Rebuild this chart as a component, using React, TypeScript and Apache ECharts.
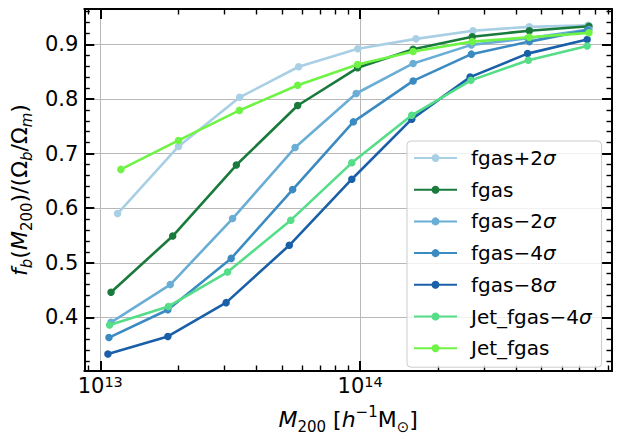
import React, { useEffect, useRef } from "react";
import * as echarts from "echarts";

// ---- data ----
const seriesNames = ["fgas+2σ", "fgas", "fgas−2σ", "fgas−4σ", "fgas−8σ", "Jet_fgas−4σ", "Jet_fgas"];
const seriesColors = ["#a9cfe5", "#1a7a3c", "#6aaed6", "#3b8bc2", "#1a60a8", "#55dd88", "#6ff445"];

const massFgasP2 = [1.166e13, 2.0e13, 3.44e13, 5.8e13, 9.8e13, 1.64e14, 2.72e14, 4.48e14, 7.53e14];
const fbFgasP2 = [0.590, 0.713, 0.803, 0.859, 0.892, 0.910, 0.925, 0.932, 0.935];

const massFgas = [1.10e13, 1.90e13, 3.34e13, 5.75e13, 9.78e13, 1.60e14, 2.70e14, 4.48e14, 7.6e14];
const fbFgas = [0.446, 0.549, 0.679, 0.788, 0.857, 0.891, 0.914, 0.925, 0.933];

const massFgasM2 = [1.10e13, 1.86e13, 3.23e13, 5.62e13, 9.66e13, 1.60e14, 2.68e14, 4.42e14, 7.6e14];
const fbFgasM2 = [0.391, 0.460, 0.581, 0.711, 0.810, 0.865, 0.899, 0.911, 0.927];

const massFgasM4 = [1.08e13, 1.82e13, 3.19e13, 5.5e13, 9.42e13, 1.60e14, 2.68e14, 4.48e14, 7.5e14];
const fbFgasM4 = [0.363, 0.414, 0.508, 0.634, 0.758, 0.833, 0.882, 0.905, 0.926];

const massFgasM8 = [1.07e13, 1.82e13, 3.05e13, 5.34e13, 9.29e13, 1.58e14, 2.65e14, 4.41e14, 7.48e14];
const fbFgasM8 = [0.333, 0.365, 0.427, 0.532, 0.653, 0.763, 0.840, 0.883, 0.909];

const massJetM4 = [1.086e13, 1.83e13, 3.09e13, 5.41e13, 9.29e13, 1.58e14, 2.67e14, 4.44e14, 7.48e14];
const fbJetM4 = [0.386, 0.420, 0.483, 0.578, 0.683, 0.770, 0.834, 0.871, 0.897];

const massJet = [1.20e13, 2.0e13, 3.43e13, 5.75e13, 9.78e13, 1.60e14, 2.70e14, 4.48e14, 7.6e14];
const fbJet = [0.671, 0.724, 0.779, 0.825, 0.863, 0.887, 0.905, 0.913, 0.921];

const seriesMass = [massFgasP2, massFgas, massFgasM2, massFgasM4, massFgasM8, massJetM4, massJet];
const seriesFb = [fbFgasP2, fbFgas, fbFgasM2, fbFgasM4, fbFgasM8, fbJetM4, fbJet];

// ---- axes ----
const X_MIN = 8.68e12;
const X_MAX = 9.32e14;
const Y_MIN = 0.3018;
const Y_MAX = 0.9647;
const xMajorTicks = [1e13, 1e14];
const xMinorTicks = [9e12, 2e13, 3e13, 4e13, 5e13, 6e13, 7e13, 8e13, 9e13, 2e14, 3e14, 4e14, 5e14, 6e14, 7e14, 8e14, 9e14];
const yMajorTicks = [0.4, 0.5, 0.6, 0.7, 0.8, 0.9];
const yMinorTicks = [0.32, 0.34, 0.36, 0.38, 0.42, 0.44, 0.46, 0.48, 0.52, 0.54, 0.56, 0.58, 0.62, 0.64, 0.66, 0.68, 0.72, 0.74, 0.76, 0.78, 0.82, 0.84, 0.86, 0.88, 0.92, 0.94, 0.96];

const FONT = "DejaVu Sans";

export default function App() {
  const ref = useRef<HTMLDivElement>(null);
  useEffect(() => {
    if (!ref.current) return;
    const chart = echarts.init(ref.current, null, { renderer: "svg" });

    const majorTick = (vals: number[]) => ({
      show: true, inside: true, length: 10, customValues: vals,
      lineStyle: { color: "#000", width: 2 },
    });
    const minorTick = (vals: number[]) => ({
      show: true, inside: true, length: 5.5, customValues: vals,
      lineStyle: { color: "#000", width: 1.4 },
    });
    const frameLine = { show: true, onZero: false, lineStyle: { color: "#000", width: 2 } };
    const noLine = { show: false, onZero: false };
    const xBase = { type: "log", logBase: 10, min: X_MIN, max: X_MAX };
    const yBase = { type: "value", min: Y_MIN, max: Y_MAX };

    const nameRich = {
      n: { fontFamily: FONT, fontSize: 22, lineHeight: 30, color: "#000", verticalAlign: "middle" },
      i: { fontFamily: FONT, fontSize: 22, lineHeight: 30, color: "#000", fontStyle: "italic", verticalAlign: "middle" },
      sub: { fontFamily: FONT, fontSize: 15, lineHeight: 15, color: "#000", verticalAlign: "bottom" },
      subi: { fontFamily: FONT, fontSize: 15, lineHeight: 15, color: "#000", fontStyle: "italic", verticalAlign: "bottom" },
      sup: { fontFamily: FONT, fontSize: 15, lineHeight: 15, color: "#000", verticalAlign: "top" },
    };

    const series = seriesNames.map((name, k) => ({
      name,
      type: "line",
      xAxisIndex: 0,
      yAxisIndex: 0,
      data: seriesMass[k].map((m, i) => [m, seriesFb[k][i]]),
      symbol: "circle",
      symbolSize: 7.5,
      color: seriesColors[k],
      itemStyle: { color: seriesColors[k] },
      lineStyle: { color: seriesColors[k], width: 2.6 },
      z: 3 + k,
    }));

    chart.setOption({
      animation: false,
      backgroundColor: "#fff",
      grid: { left: 84, right: 16, top: 9, bottom: 61, containLabel: false },
      legend: {
        orient: "vertical",
        left: 407,
        top: 141,
        selectedMode: false,
        itemWidth: 43,
        itemHeight: 10,
        itemGap: 9.7,
        padding: [6, 10, 8, 6],
        backgroundColor: "rgba(255,255,255,0.8)",
        borderColor: "#cccccc",
        borderWidth: 1,
        borderRadius: 4,
        data: seriesNames,
        formatter: (name: string) => name.replace("σ", "{i|σ}"),
        textStyle: {
          fontFamily: FONT, fontSize: 20, color: "#000", lineHeight: 22, padding: [0, 0, 0, 9],
          rich: {
            i: { fontFamily: FONT, fontSize: 20, lineHeight: 22, color: "#000", fontStyle: "italic" },
          },
        },
        z: 20,
      },
      xAxis: [
        {
          ...xBase, position: "bottom",
          axisLine: frameLine,
          axisTick: majorTick(xMajorTicks),
          axisLabel: {
            show: true, customValues: xMajorTicks, margin: 3,
            formatter: (v: number) => `{n|10}{sup|${Math.round(Math.log10(v))}}`,
            rich: {
              n: { fontFamily: FONT, fontSize: 21, lineHeight: 24, color: "#000", verticalAlign: "middle" },
              sup: { fontFamily: FONT, fontSize: 14.5, lineHeight: 12, color: "#000", verticalAlign: "top" },
            },
          },
          splitLine: { show: true, lineStyle: { color: "#b8b8b8", width: 1 } },
          name: "{i|M}{sub|200}{n| [}{i|h}{sup|−1}{n|M}{sub|⊙}{n|]}",
          nameLocation: "middle",
          nameGap: 33,
          nameTextStyle: { fontFamily: FONT, fontSize: 22, color: "#000", rich: nameRich },
        },
        { ...xBase, position: "bottom", axisLine: noLine, axisTick: minorTick(xMinorTicks), axisLabel: { show: false }, splitLine: { show: false } },
        { ...xBase, position: "top", axisLine: frameLine, axisTick: majorTick(xMajorTicks), axisLabel: { show: false }, splitLine: { show: false } },
        { ...xBase, position: "top", axisLine: noLine, axisTick: minorTick(xMinorTicks), axisLabel: { show: false }, splitLine: { show: false } },
      ],
      yAxis: [
        {
          ...yBase, position: "left",
          axisLine: frameLine,
          axisTick: majorTick(yMajorTicks),
          axisLabel: {
            show: true, customValues: yMajorTicks, margin: 6,
            fontFamily: FONT, fontSize: 21, color: "#000",
            formatter: (v: number) => v.toFixed(1),
          },
          splitLine: { show: true, lineStyle: { color: "#b8b8b8", width: 1 } },
          name: "{i|f}{subi|b}{n|(}{i|M}{sub|200}{n|)/(Ω}{subi|b}{n|/Ω}{subi|m}{n|)}",
          nameLocation: "middle",
          nameRotate: 90,
          nameGap: 47,
          nameTextStyle: { fontFamily: FONT, fontSize: 22, color: "#000", rich: nameRich },
        },
        { ...yBase, position: "left", axisLine: noLine, axisTick: minorTick(yMinorTicks), axisLabel: { show: false }, splitLine: { show: false } },
        { ...yBase, position: "right", axisLine: frameLine, axisTick: majorTick(yMajorTicks), axisLabel: { show: false }, splitLine: { show: false } },
        { ...yBase, position: "right", axisLine: noLine, axisTick: minorTick(yMinorTicks), axisLabel: { show: false }, splitLine: { show: false } },
      ],
      series,
    });

    return () => chart.dispose();
  }, []);

  return (
    <div
      ref={ref}
      style={{ position: "fixed", left: 0, top: 0, width: 628, height: 439, background: "#fff" }}
    />
  );
}
